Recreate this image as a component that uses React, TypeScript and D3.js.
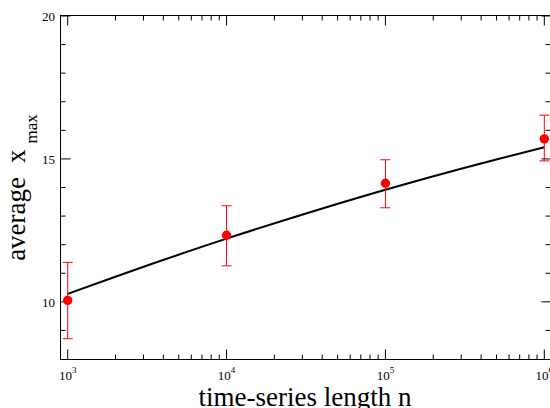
import React from 'react';
import * as d3 from 'd3';

// measured points (series length n, average x_max, error bar ends)
const lengths = [1e3, 1e4, 1e5, 1e6];
const avgMax = [10.05, 12.33, 14.15, 15.7];
const errLow = [8.71, 11.26, 13.29, 14.93];
const errHigh = [11.38, 13.36, 14.97, 16.53];

const curveLogN = [3, 3.5, 4, 4.5, 5, 5.5, 6];
const curveVals = [10.28, 11.27, 12.21, 13.09, 13.92, 14.69, 15.41];

const yTicks = [10, 15, 20];
const xTickExps = ['3', '4', '5', '6'];

const W = 550;
const H = 408;
const frame = { left: 60.5, right: 551.5, top: 15.5, bottom: 359.5 };
const font = '"Liberation Serif", "Times New Roman", serif';

const App = () => {
  const x = d3.scaleLog().domain([1e3, 1e6]).range([67.7, 544.3]);
  const y = d3.scaleLinear().domain([8, 20]).range([359, 16]);

  // minor x ticks 2..9 per decade
  const minorX: number[] = [];
  for (let e = 3; e < 6; e++) {
    for (let m = 2; m <= 9; m++) minorX.push(m * Math.pow(10, e));
  }
  const minorY = d3.range(9, 20).filter(v => !yTicks.includes(v));

  const line = d3.line<number>()
    .x((d, i) => x(Math.pow(10, curveLogN[i])))
    .y(d => y(d))
    .curve(d3.curveCatmullRom);

  return (
    <svg width={W} height={H} style={{ position: 'absolute', left: 0, top: 0, background: '#fff' }}>
      {/* frame */}
      <rect x={frame.left} y={frame.top} width={frame.right - frame.left} height={frame.bottom - frame.top}
        fill="none" stroke="#000" strokeWidth={1} />

      {/* x ticks, inward on top and bottom */}
      {lengths.map(v => (
        <g key={'mx' + v}>
          <line x1={x(v)} x2={x(v)} y1={frame.bottom} y2={frame.bottom - 10} stroke="#000" />
          <line x1={x(v)} x2={x(v)} y1={frame.top} y2={frame.top + 10} stroke="#000" />
        </g>
      ))}
      {minorX.map(v => (
        <g key={'nx' + v}>
          <line x1={x(v)} x2={x(v)} y1={frame.bottom} y2={frame.bottom - 5} stroke="#000" />
          <line x1={x(v)} x2={x(v)} y1={frame.top} y2={frame.top + 5} stroke="#000" />
        </g>
      ))}

      {/* y ticks, inward on left and right */}
      {yTicks.map(v => (
        <g key={'my' + v}>
          <line x1={frame.left} x2={frame.left + 10} y1={y(v)} y2={y(v)} stroke="#000" />
          <line x1={frame.right} x2={frame.right - 10} y1={y(v)} y2={y(v)} stroke="#000" />
        </g>
      ))}
      {minorY.map(v => (
        <g key={'ny' + v}>
          <line x1={frame.left} x2={frame.left + 5} y1={y(v)} y2={y(v)} stroke="#000" />
          <line x1={frame.right} x2={frame.right - 6} y1={y(v)} y2={y(v)} stroke="#000" />
        </g>
      ))}

      {/* tick labels */}
      {yTicks.map(v => (
        <text key={'ly' + v} x={55} y={y(v) + 5} textAnchor="end" fontFamily={font} fontSize={13} fill="#000">
          {v}
        </text>
      ))}
      {lengths.map((v, i) => (
        <text key={'lx' + v} x={x(v)} y={380} textAnchor="middle" fontFamily={font} fontSize={13} fill="#000">
          10<tspan fontSize={9} dy={-7}>{xTickExps[i]}</tspan>
        </text>
      ))}

      {/* theory curve */}
      <path d={line(curveVals) || ''} fill="none" stroke="#000" strokeWidth={2} />

      {/* error bars and points */}
      {lengths.map((v, i) => (
        <g key={'pt' + v}>
          <line x1={x(v)} x2={x(v)} y1={y(errLow[i])} y2={y(errHigh[i])} stroke="#ff0000" strokeWidth={1} />
          <line x1={x(v) - 5} x2={x(v) + 5} y1={y(errLow[i])} y2={y(errLow[i])} stroke="#ff0000" strokeWidth={1} />
          <line x1={x(v) - 5} x2={x(v) + 5} y1={y(errHigh[i])} y2={y(errHigh[i])} stroke="#ff0000" strokeWidth={1} />
          <circle cx={x(v)} cy={y(avgMax[i])} r={4.7} fill="#ff0000" />
        </g>
      ))}

      {/* axis titles */}
      <text x={305} y={406} textAnchor="middle" fontFamily={font} fontSize={27} fill="#000">
        time-series length n
      </text>
      <text transform="translate(25,187.5) rotate(-90)" textAnchor="middle" fontFamily={font} fontSize={27} fill="#000">
        average<tspan dx={14}>x</tspan><tspan fontSize={17} dx={6} dy={12}>max</tspan>
      </text>
    </svg>
  );
};

export default App;
